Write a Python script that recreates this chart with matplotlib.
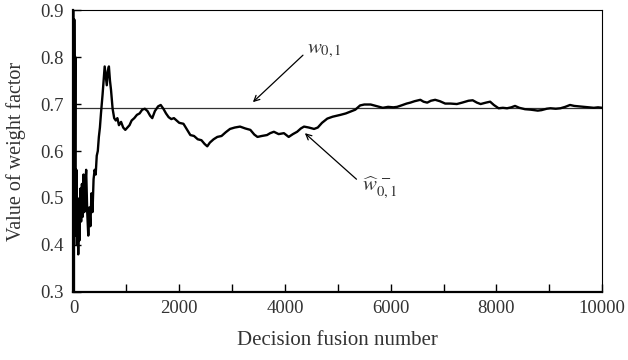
import matplotlib
matplotlib.use('Agg')
import matplotlib.pyplot as plt

# Decision fusion number and estimated weight factor
x = [0, 8, 15, 25, 35, 45, 55, 65, 75, 90, 100, 115, 130, 145, 160, 175, 190,
     205, 220, 240, 260, 280, 300, 320, 340, 360, 380, 400, 420, 440, 460, 480,
     500, 520, 550, 570, 590, 610, 630, 650, 670, 690, 710, 740, 770, 800, 830,
     860, 900, 940, 980, 1020, 1060, 1100, 1150, 1200, 1250, 1300, 1350, 1400,
     1450, 1490, 1540, 1600, 1650, 1700, 1750, 1800, 1850, 1900, 1950, 2000,
     2080, 2150, 2210, 2280, 2350, 2420, 2480, 2530, 2580, 2650, 2720, 2800,
     2880, 2960, 3050, 3150, 3250, 3345, 3420, 3480, 3560, 3660, 3720, 3790,
     3880, 3980, 4070, 4150, 4230, 4300, 4360, 4450, 4550, 4620, 4700, 4800,
     4900, 5050, 5150, 5240, 5330, 5420, 5500, 5620, 5720, 5850, 5950, 6050,
     6120, 6200, 6300, 6370, 6450, 6560, 6620, 6690, 6760, 6840, 6930, 7030,
     7130, 7250, 7350, 7470, 7550, 7630, 7700, 7800, 7880, 7950, 8040, 8120,
     8200, 8280, 8350, 8430, 8540, 8650, 8780, 8850, 8950, 9020, 9120, 9210,
     9300, 9390, 9470, 9560, 9650, 9750, 9840, 9920, 10000]
w_hat = [0.95, 0.30, 0.88, 0.55, 0.80, 0.42, 0.56, 0.40, 0.50, 0.38, 0.46, 0.41,
         0.52, 0.45, 0.53, 0.46, 0.55, 0.47, 0.52, 0.56, 0.47, 0.42, 0.48, 0.44,
         0.51, 0.47, 0.54, 0.56, 0.55, 0.59, 0.60, 0.63, 0.65, 0.68, 0.72, 0.75,
         0.78, 0.76, 0.74, 0.77, 0.78, 0.75, 0.73, 0.69, 0.67, 0.665, 0.67, 0.655,
         0.662, 0.65, 0.645, 0.65, 0.655, 0.665, 0.67, 0.677, 0.68, 0.688, 0.69,
         0.685, 0.675, 0.67, 0.685, 0.695, 0.698, 0.69, 0.68, 0.672, 0.668, 0.67,
         0.665, 0.66, 0.658, 0.645, 0.634, 0.632, 0.625, 0.623, 0.615, 0.61,
         0.618, 0.625, 0.63, 0.632, 0.64, 0.647, 0.65, 0.652, 0.648, 0.645,
         0.635, 0.63, 0.632, 0.634, 0.638, 0.641, 0.636, 0.638, 0.63, 0.636,
         0.641, 0.648, 0.652, 0.65, 0.647, 0.65, 0.66, 0.669, 0.673, 0.677, 0.68,
         0.684, 0.688, 0.697, 0.699, 0.699, 0.696, 0.692, 0.694, 0.693, 0.694,
         0.697, 0.701, 0.703, 0.706, 0.709, 0.705, 0.703, 0.707, 0.709, 0.706,
         0.701, 0.701, 0.700, 0.703, 0.707, 0.708, 0.703, 0.700, 0.703, 0.705,
         0.698, 0.691, 0.692, 0.691, 0.693, 0.696, 0.692, 0.689, 0.688, 0.686,
         0.687, 0.69, 0.691, 0.69, 0.691, 0.694, 0.698, 0.696, 0.695, 0.694,
         0.693, 0.692, 0.693, 0.692]
w_true = 0.692

xticks = [0, 2000, 4000, 6000, 8000, 10000]
yticks = [0.3, 0.4, 0.5, 0.6, 0.7, 0.8, 0.9]

plt.rcParams['font.family'] = ['Liberation Serif', 'DejaVu Serif']
plt.rcParams['mathtext.fontset'] = 'stix'

fig = plt.figure(figsize=(6.28, 3.6), dpi=100)
ax = fig.add_axes([0.117, 0.189, 0.842, 0.783])

ax.axhline(w_true, color='#333333', lw=0.9)
ax.plot(x, w_hat, color='black', lw=1.7)

ax.set_xlim(0, 10000)
ax.set_ylim(0.3, 0.9)
ax.set_xticks(xticks)
ax.set_xticks(range(1000, 10000, 2000), minor=True)
ax.set_yticks(yticks)
ax.set_yticklabels([f'{v:.1f}' for v in yticks])
ax.tick_params(which='both', direction='in', length=6, width=1, labelsize=13.5,
               colors='black', labelcolor='#333333', top=False, right=False)
ax.tick_params(axis='x', pad=6)
ax.tick_params(axis='y', pad=7)

for side in ['left', 'bottom']:
    ax.spines[side].set_linewidth(1.6)
for side in ['top', 'right']:
    ax.spines[side].set_linewidth(0.8)

ax.set_xlabel('Decision fusion number', fontsize=15, color='#333333')
ax.set_ylabel('Value of weight factor', fontsize=14.5, color='#333333')
ax.xaxis.set_label_coords(0.5, -0.14)
ax.yaxis.set_label_coords(-0.09, 0.5)

arrow = dict(arrowstyle='->', color='black', lw=0.9, shrinkA=0, shrinkB=0)
ax.annotate('', xy=(3393, 0.704), xytext=(4340, 0.804), arrowprops=arrow)
ax.text(4420, 0.815, r'$w_{0,1}$', fontsize=15, color='#333333', va='center')
ax.annotate('', xy=(4376, 0.638), xytext=(5352, 0.540), arrowprops=arrow)
ax.text(5450, 0.523, r'$\widehat{w}_{0,1}^{\,-}$', fontsize=15, color='#333333',
        va='center')

fig.savefig('out.png', dpi=100)
